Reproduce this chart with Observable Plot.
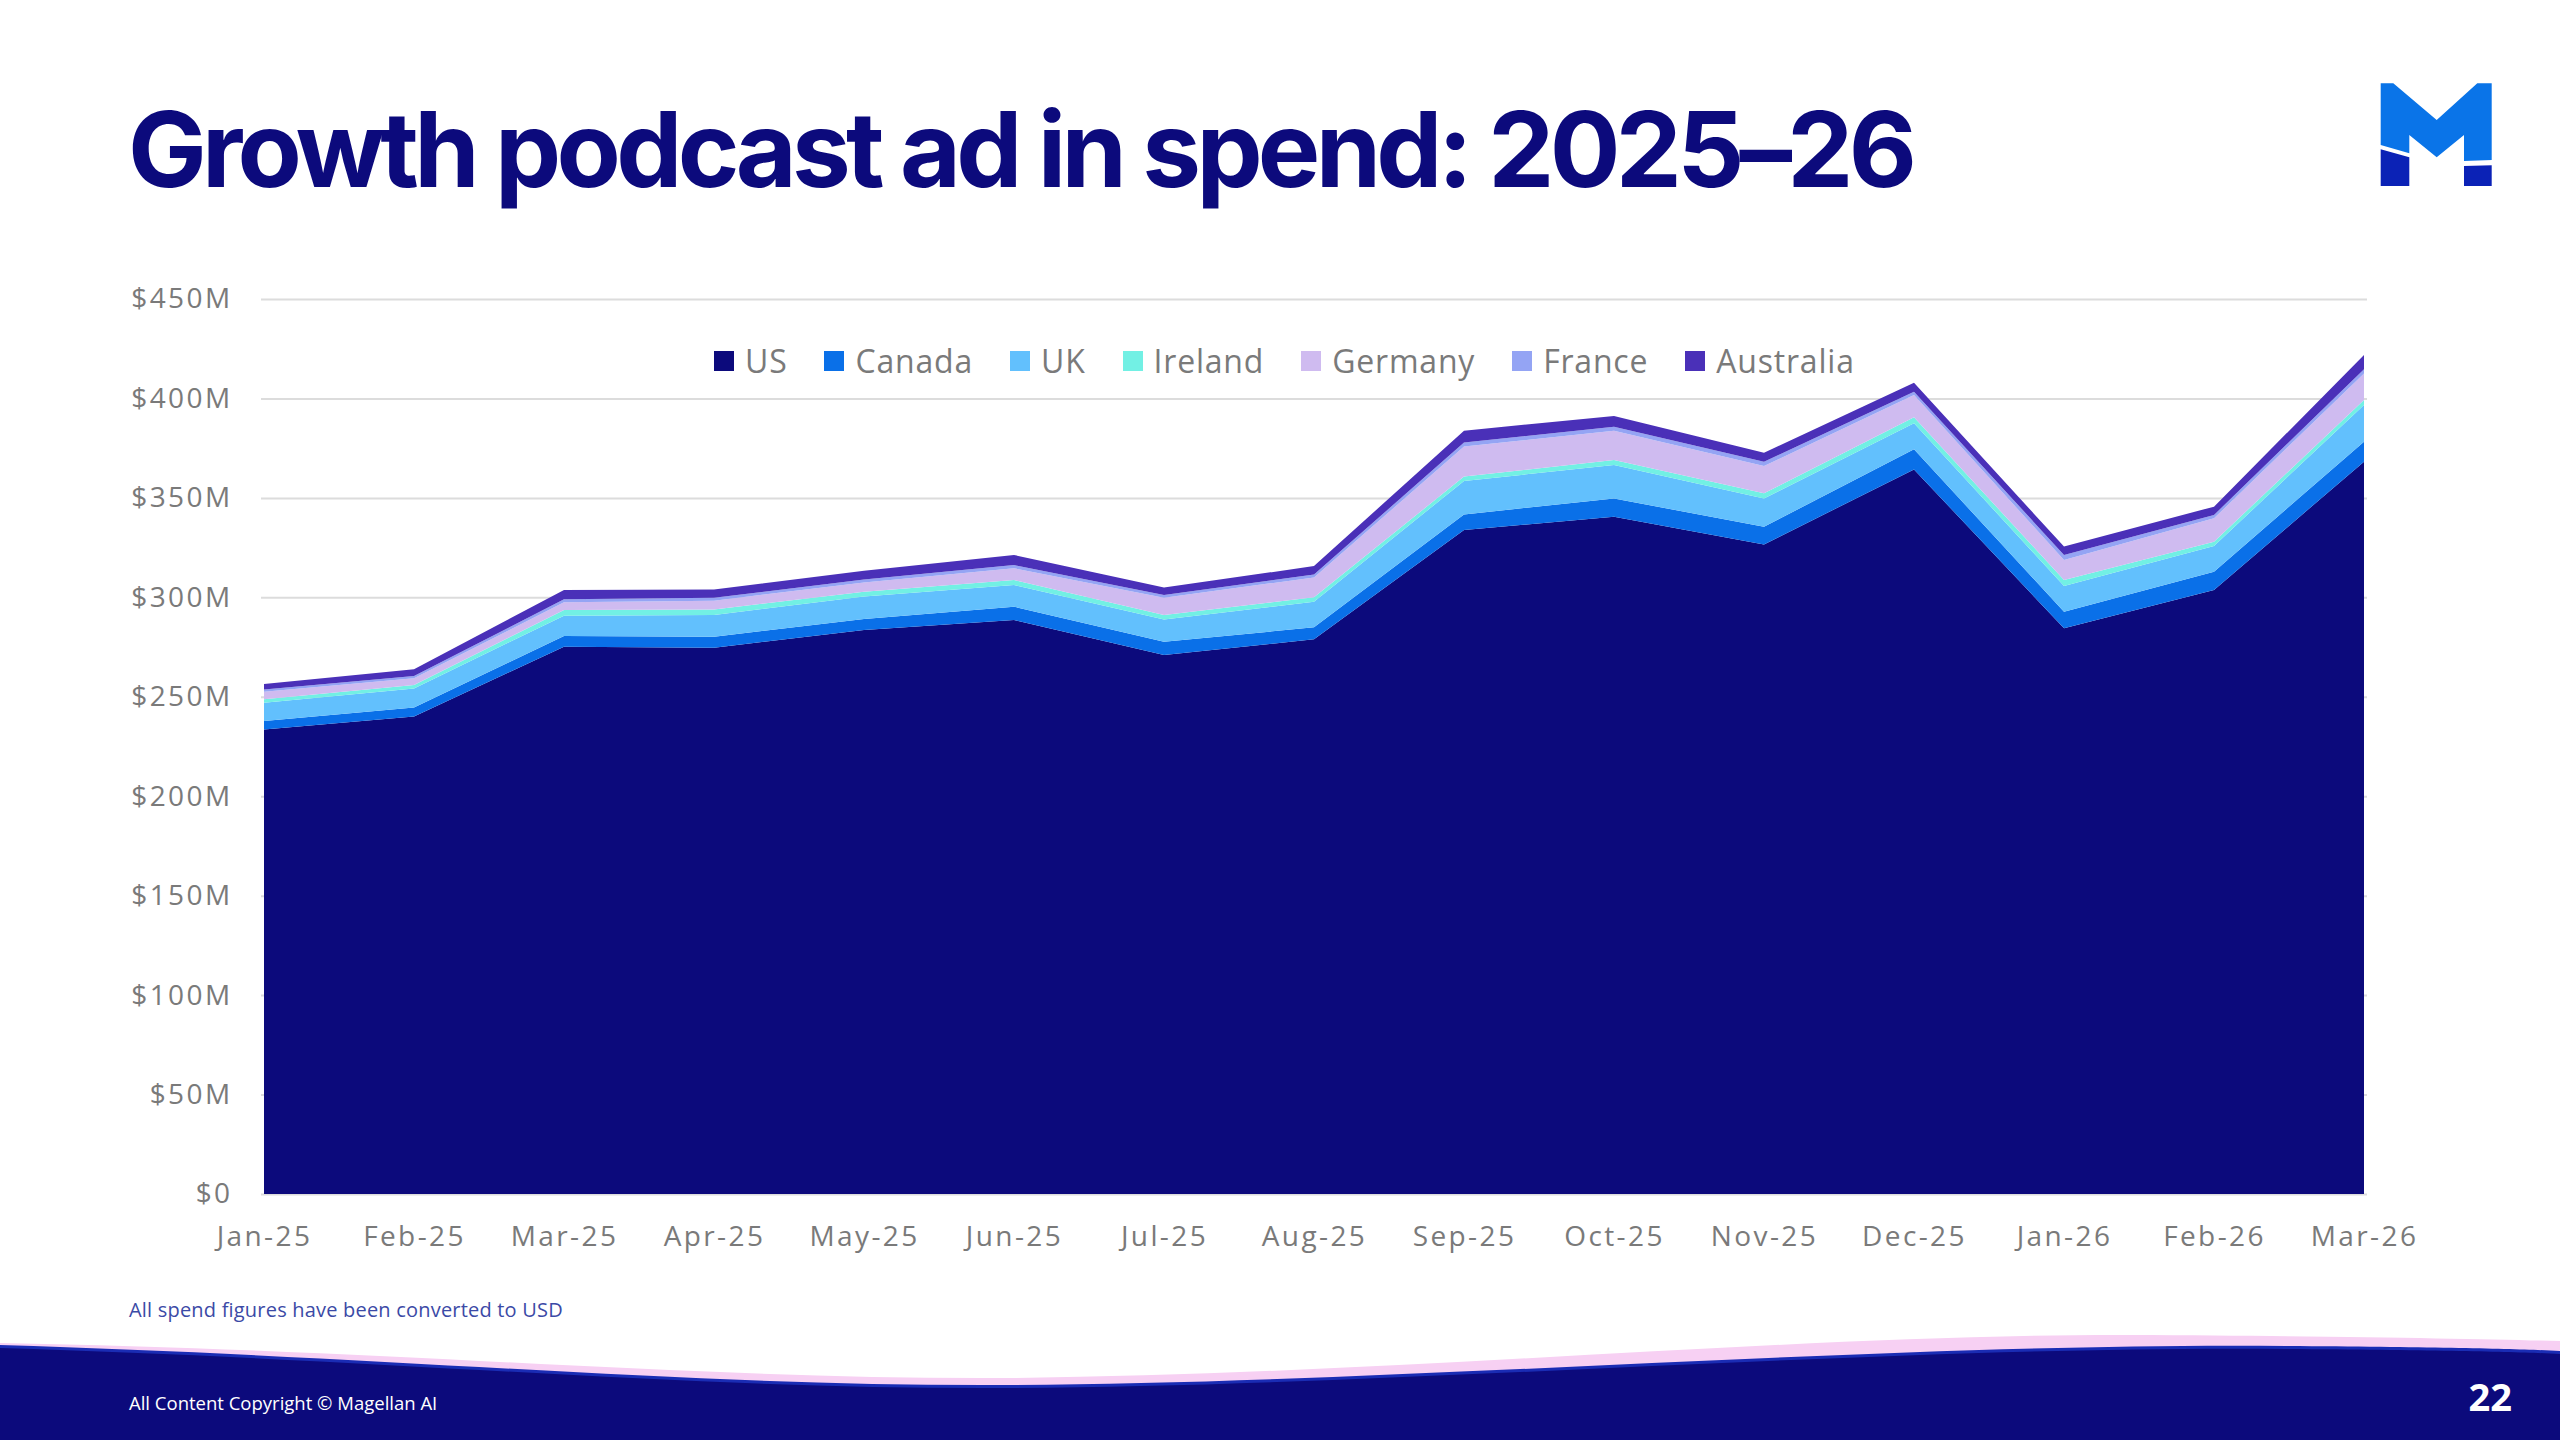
<!DOCTYPE html>
<html>
<head>
<meta charset="utf-8">
<script src="https://cdn.jsdelivr.net/npm/d3@7"></script>
<script src="https://cdn.jsdelivr.net/npm/@observablehq/plot@0.6"></script>
<style>
  html, body { margin: 0; padding: 0; background: #fff; }
  #page { position: relative; width: 2560px; height: 1440px; overflow: hidden; background: #fff; font-family: 'Open Sans', 'Noto Sans', sans-serif; }
  #title { position: absolute; left: 128px; top: 86px; margin: 0; font-family: Inter, 'Open Sans', sans-serif; font-weight: 700; font-size: 105px; line-height: 1.2; color: #0c0a7c; letter-spacing: -0.045em; white-space: nowrap; }
  #chart { position: absolute; left: 0; top: 250px; }
  #legend { position: absolute; left: 714px; top: 339px; display: flex; align-items: center; gap: 37px; font-size: 32px; letter-spacing: 0.025em; color: #7a7a7a; white-space: nowrap; }
  .item { display: flex; align-items: center; gap: 11px; }
  .sw { width: 20px; height: 20px; display: inline-block; }
  #note { position: absolute; left: 129px; top: 1296px; font-size: 20px; letter-spacing: 0.01em; color: #3b4aa6; white-space: nowrap; }
  #copy { position: absolute; left: 129px; top: 1390px; font-size: 18.5px; color: #ffffff; white-space: nowrap; }
  #pageno { position: absolute; right: 48px; top: 1370px; font-size: 38px; font-weight: 700; color: #ffffff; }
  svg.deco { position: absolute; left: 0; top: 0; }
</style>
</head>
<body>
<div id="page">
  <svg class="deco" width="2560" height="1440" viewBox="0 0 2560 1440">
    <path d="M0,1343 C400,1350 700,1380 1012,1378 C1400,1374 1800,1334 2130,1335 C2350,1336 2480,1339 2560,1341 L2560,1440 L0,1440 Z" fill="#f7d0f3"/>
    <path d="M0,1345 C400,1357 700,1387 1012,1385 C1400,1383 1900,1342 2286,1346 C2450,1347 2520,1349 2560,1351 L2560,1440 L0,1440 Z" fill="#1a2cb4"/>
    <path d="M0,1348 C400,1360 700,1390 1012,1388 C1400,1386 1900,1345 2286,1349 C2450,1350 2520,1352 2560,1354 L2560,1440 L0,1440 Z" fill="#0c0a7c"/>
    <polygon points="2380.7,83.3 2393.3,83.3 2436.7,120 2477.3,83.3 2491.7,83.3 2491.7,160 2464,161 2464,135 2436.7,157.3 2409.3,135 2409.3,153.3 2380.7,145" fill="#0a74e8"/>
    <polygon points="2380.7,149.3 2409.3,157.3 2409.3,186 2380.7,186" fill="#0b22b6"/>
    <polygon points="2464,166 2491.7,165.3 2491.7,186 2464,186" fill="#0b22b6"/>
  </svg>
  <h1 id="title">Growth podcast ad in spend: 2025–26</h1>
  <div id="chart"></div>
  <div id="legend"></div>
  <div id="note">All spend figures have been converted to USD</div>
  <div id="copy">All Content Copyright © Magellan AI</div>
  <div id="pageno">22</div>
</div>
<script>
// ---- data (USD millions) ----
const months = ["Jan-25","Feb-25","Mar-25","Apr-25","May-25","Jun-25","Jul-25","Aug-25","Sep-25","Oct-25","Nov-25","Dec-25","Jan-26","Feb-26","Mar-26"];
const countries = ["US","Canada","UK","Ireland","Germany","France","Australia"];
const colors = ["#0c0a7c","#0a70e8","#62c0fd","#72f0e4","#cfbbf0","#94a4f4","#4a30b8"];
const us        = [233.6, 240.1, 275.2, 274.7, 283.6, 288.6, 271.0, 278.9, 333.8, 340.5, 326.6, 364.3, 284.4, 303.7, 368.2];
const canada    = [4.2, 4.5, 5.3, 5.5, 5.5, 6.7, 6.7, 6.0, 7.9, 9.2, 8.9, 10.1, 8.4, 9.2, 10.0];
const uk        = [9.2, 9.6, 10.3, 10.9, 11.3, 10.9, 11.2, 12.9, 16.8, 16.8, 14.2, 13.1, 12.9, 12.9, 18.5];
const ireland   = [1.7, 1.7, 2.8, 2.8, 2.4, 2.5, 2.2, 2.2, 2.2, 2.5, 2.6, 3.0, 3.0, 2.2, 2.5];
const germany   = [3.8, 3.4, 3.9, 4.4, 4.7, 5.9, 8.7, 10.0, 15.1, 14.8, 13.7, 11.2, 10.1, 11.7, 13.4];
const france    = [1.2, 1.1, 1.5, 1.5, 1.5, 1.6, 1.4, 1.5, 2.0, 2.0, 2.2, 1.7, 2.5, 1.7, 2.1];
const australia = [2.7, 3.4, 4.7, 4.2, 4.4, 5.1, 3.7, 4.2, 6.0, 5.4, 4.5, 4.5, 4.2, 4.2, 7.1];
const yTicks = [0, 50, 100, 150, 200, 250, 300, 350, 400, 450];

const series = [us, canada, uk, ireland, germany, france, australia];
const rows = [];
countries.forEach((c, ci) => months.forEach((m, mi) => rows.push({month: m, country: c, value: series[ci][mi]})));

const chart = Plot.plot({
  width: 2560,
  height: 1020,
  marginTop: 49,
  marginBottom: 76,
  marginLeft: 261,
  marginRight: 193,
  style: {fontFamily: "'Open Sans', 'Noto Sans', sans-serif", fontSize: "28px", letterSpacing: "2.4px", color: "#7a7a7a", background: "transparent", overflow: "visible"},
  x: {type: "point", domain: months, padding: 0, label: null},
  y: {domain: [0, 450], label: null},
  color: {domain: countries, range: colors},
  marks: [
    Plot.gridY(yTicks, {stroke: "#dcdcdc", strokeOpacity: 1, strokeWidth: 2}),
    Plot.areaY(rows, {x: "month", y: "value", fill: "country", z: "country", order: countries}),
    Plot.axisY(yTicks, {tickSize: 0, tickPadding: 29, tickFormat: d => d === 0 ? "$0" : `$${d}M`, fill: "#7a7a7a"}),
    Plot.axisX({tickSize: 0, tickPadding: 32, fill: "#7a7a7a"})
  ]
});
document.getElementById("chart").appendChild(chart);

const legend = document.getElementById("legend");
countries.forEach((c, i) => {
  const it = document.createElement("div");
  it.className = "item";
  const sw = document.createElement("span");
  sw.className = "sw";
  sw.style.background = colors[i];
  const t = document.createElement("span");
  t.textContent = c;
  it.appendChild(sw); it.appendChild(t);
  legend.appendChild(it);
});
</script>
</body>
</html>
